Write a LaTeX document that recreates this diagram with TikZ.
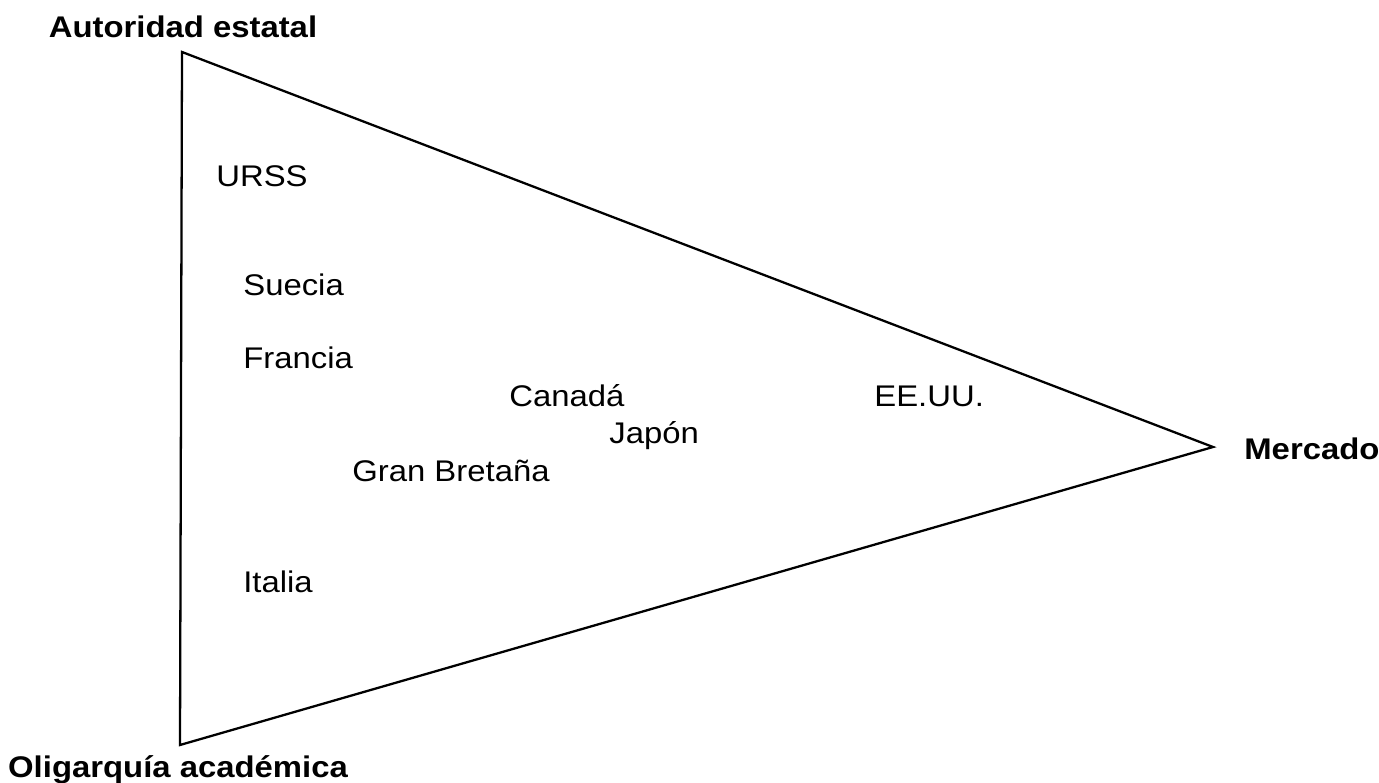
\documentclass[tikz,border=0pt]{standalone}
\usepackage{fontspec}
\setmainfont{Liberation Sans}[FakeStretch=1.1]
\usetikzlibrary{positioning}

\begin{document}
\begin{tikzpicture}[x=0.02cm, y=-0.02cm,
		pole/.style = {font=\fontsize{17}{20}\selectfont\bfseries, inner sep=0pt},
		country/.style = {font=\fontsize{17}{20}\selectfont, inner sep=0pt, anchor=west}]
		\useasboundingbox (0,0) rectangle (1379,783);
		
		\coordinate (top) at (182,52);
		\coordinate (bot) at (180,745);
		\coordinate (tip) at (1213,447);
		
		\node at (183,27) (estatal) [pole] {Autoridad estatal};
		\node at (178,770) (oligarquia) [pole] {Oligarquía académica};
		\node at (1244,449) (mercado) [pole, anchor=west] {Mercado};
		
		\node at (216,176) (urss) [country] {URSS};
		\node at (243,285) (suecia) [country] {Suecia};
		\node at (243,358) (francia) [country] {Francia};
		\node at (509,396) (canada) [country] {Canadá};
		\node at (874,396) (eeuu) [country] {EE.UU.};
		\node at (609,436) (japon) [country] {Japón};
		\node at (352,471) (gb) [country] {Gran Bretaña};
		\node at (243,582) (italia) [country] {Italia};
		
		\draw [line width=1.3pt, line join=miter] (top) -- (tip) -- (bot) -- cycle;
	\end{tikzpicture}
\end{document}
